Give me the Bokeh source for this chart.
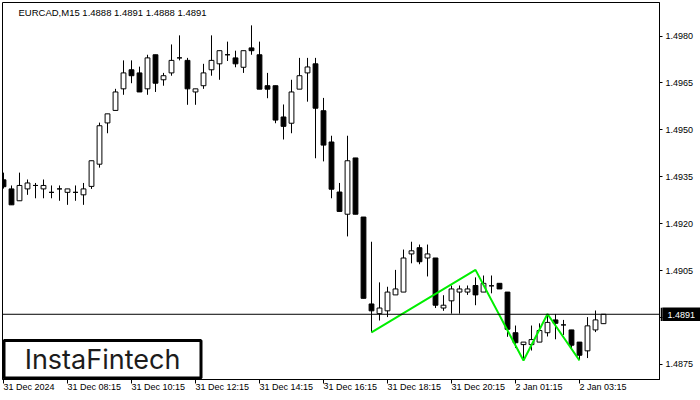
from bokeh.plotting import figure
from bokeh.layouts import column
from bokeh.models import (ColumnDataSource, FixedTicker, Span, Label, BoxAnnotation,
                          Range1d, PrintfTickFormatter)
from bokeh.embed import file_html
from bokeh.resources import INLINE

chart_title = "EURCAD,M15  1.4888 1.4891 1.4888 1.4891"
logo_text = "InstaFintech"

opens = [1.49340, 1.49311, 1.49273, 1.49311, 1.49322, 1.49311, 1.49300, 1.49311, 1.49300, 1.49300,
         1.49292, 1.49319, 1.49390, 1.49522, 1.49562, 1.49631, 1.49692, 1.49682, 1.49631, 1.49740,
         1.49660, 1.49682, 1.49730, 1.49722, 1.49621, 1.49641, 1.49692, 1.49711, 1.49740, 1.49730,
         1.49700, 1.49762, 1.49740, 1.49641, 1.49641, 1.49541, 1.49521, 1.49630, 1.49682, 1.49711,
         1.49561, 1.49461, 1.49301, 1.49230, 1.49410, 1.49221, 1.48943, 1.48912, 1.48921, 1.48972,
         1.48981, 1.49103, 1.49123, 1.49090, 1.49090, 1.48930, 1.48953, 1.48981, 1.48981, 1.49002,
         1.48981, 1.49001, 1.49009, 1.48981, 1.48851, 1.48813, 1.48813, 1.48821, 1.48851, 1.48892,
         1.48876, 1.48860, 1.48821, 1.48793, 1.48860, 1.48880]
highs = [1.49363, 1.49322, 1.49363, 1.49341, 1.49330, 1.49341, 1.49322, 1.49322, 1.49311, 1.49322,
         1.49330, 1.49401, 1.49523, 1.49551, 1.49631, 1.49722, 1.49722, 1.49702, 1.49740, 1.49740,
         1.49682, 1.49773, 1.49802, 1.49730, 1.49631, 1.49711, 1.49802, 1.49753, 1.49782, 1.49753,
         1.49753, 1.49834, 1.49782, 1.49682, 1.49641, 1.49581, 1.49660, 1.49730, 1.49730, 1.49730,
         1.49602, 1.49481, 1.49330, 1.49481, 1.49410, 1.49221, 1.49142, 1.49012, 1.48998, 1.49052,
         1.49117, 1.49142, 1.49133, 1.49133, 1.49090, 1.48971, 1.49002, 1.49002, 1.49002, 1.49028,
         1.49034, 1.49034, 1.49009, 1.48981, 1.48874, 1.48821, 1.48874, 1.48881, 1.48911, 1.48911,
         1.48892, 1.48860, 1.48821, 1.48901, 1.48922, 1.48910]
lows = [1.49312, 1.49260, 1.49273, 1.49292, 1.49281, 1.49281, 1.49281, 1.49273, 1.49260, 1.49273,
        1.49260, 1.49311, 1.49379, 1.49489, 1.49562, 1.49612, 1.49649, 1.49621, 1.49612, 1.49621,
        1.49641, 1.49673, 1.49722, 1.49580, 1.49580, 1.49631, 1.49673, 1.49660, 1.49720, 1.49700,
        1.49682, 1.49740, 1.49630, 1.49601, 1.49521, 1.49469, 1.49489, 1.49630, 1.49590, 1.49409,
        1.49399, 1.49281, 1.49239, 1.49159, 1.49230, 1.48961, 1.48852, 1.48890, 1.48901, 1.48972,
        1.48981, 1.49073, 1.49070, 1.49031, 1.48930, 1.48921, 1.48912, 1.48912, 1.48972, 1.48939,
        1.48981, 1.48977, 1.48991, 1.48838, 1.48802, 1.48764, 1.48794, 1.48821, 1.48839, 1.48830,
        1.48844, 1.48802, 1.48764, 1.48770, 1.48853, 1.48880]
closes = [1.49318, 1.49260, 1.49322, 1.49330, 1.49322, 1.49322, 1.49300, 1.49311, 1.49311, 1.49300,
          1.49311, 1.49401, 1.49513, 1.49551, 1.49621, 1.49682, 1.49673, 1.49621, 1.49730, 1.49649,
          1.49673, 1.49722, 1.49730, 1.49631, 1.49631, 1.49682, 1.49722, 1.49753, 1.49740, 1.49711,
          1.49753, 1.49753, 1.49630, 1.49630, 1.49531, 1.49511, 1.49621, 1.49673, 1.49701, 1.49569,
          1.49451, 1.49310, 1.49239, 1.49401, 1.49230, 1.48961, 1.48921, 1.48930, 1.48981, 1.48991,
          1.49090, 1.49113, 1.49078, 1.49103, 1.48939, 1.48939, 1.48991, 1.48991, 1.48991, 1.48972,
          1.49009, 1.49001, 1.48991, 1.48862, 1.48819, 1.48821, 1.48829, 1.48858, 1.48884, 1.48881,
          1.48876, 1.48811, 1.48779, 1.48873, 1.48892, 1.48910]

x_tick_bars = [0, 8, 16, 24, 32, 40, 48, 56, 64, 72]
x_tick_labels = ["31 Dec 2024", "31 Dec 08:15", "31 Dec 10:15", "31 Dec 12:15", "31 Dec 14:15",
                 "31 Dec 16:15", "31 Dec 18:15", "31 Dec 20:15", "2 Jan 01:15", "2 Jan 03:15"]
y_ticks = [1.4875, 1.4890, 1.4905, 1.4920, 1.4935, 1.4950, 1.4965, 1.4980]
pattern_bars = [46, 59, 65, 68, 72]
pattern_prices = [1.48852, 1.49052, 1.48762, 1.48911, 1.48762]
last_price = 1.4891

FONT = "Liberation Sans"
FRAME_W = 657
FRAME_H = 377
PX_PER_BAR = 8.0
PX_PER_PRICE = 31267.0

x_start = -0.125
x_end = x_start + FRAME_W / PX_PER_BAR
y_top = 1.4980 + 33.5 / PX_PER_PRICE
y_bottom = y_top - FRAME_H / PX_PER_PRICE

idx = list(range(len(opens)))
body_top = [max(o, c) for o, c in zip(opens, closes)]
body_bot = [min(o, c) for o, c in zip(opens, closes)]
fills = ["white" if c >= o else "black" for o, c in zip(opens, closes)]
src = ColumnDataSource(dict(x=idx, o=opens, h=highs, l=lows, c=closes,
                            top=body_top, bot=body_bot, fill=fills))

p = figure(frame_width=FRAME_W, frame_height=FRAME_H, output_backend="svg",
           toolbar_location=None, x_range=Range1d(x_start, x_end),
           y_range=Range1d(y_bottom, y_top), y_axis_location="right",
           min_border=0, min_border_left=2, min_border_top=2,
           background_fill_color="white", border_fill_color="white")
p.outline_line_color = "black"
p.outline_line_width = 1
p.grid.visible = False

p.segment(x0="x", y0="l", x1="x", y1="h", source=src, line_color="black", line_width=1)
p.vbar(x="x", top="top", bottom="bot", width=0.6, source=src,
       fill_color="fill", line_color="black", line_width=1)

p.add_layout(Span(location=last_price, dimension="width", line_color="black", line_width=1))
p.line(pattern_bars, pattern_prices, line_color="#00ee00", line_width=2)

xa = p.xaxis[0]
xa.ticker = FixedTicker(ticks=x_tick_bars)
xa.major_label_overrides = {b: t for b, t in zip(x_tick_bars, x_tick_labels)}
xa.major_label_orientation = -0.0001
xa.major_tick_out = 4
xa.major_tick_in = 0
xa.minor_tick_out = 0
xa.minor_tick_in = 0
xa.major_label_standoff = 3
xa.major_label_text_font = FONT
xa.major_label_text_font_size = "9px"
xa.major_label_text_color = "black"
xa.axis_line_color = "black"

ya = p.yaxis[0]
ya.ticker = FixedTicker(ticks=y_ticks)
ya.formatter = PrintfTickFormatter(format="%.4f")
ya.major_tick_out = 3
ya.major_tick_in = 0
ya.minor_tick_out = 0
ya.minor_tick_in = 0
ya.major_label_standoff = 3
ya.major_label_text_font = FONT
ya.major_label_text_font_size = "9px"
ya.major_label_text_color = "black"
ya.axis_line_color = "black"

p.add_layout(Label(x=16, y=FRAME_H - 4, x_units="screen", y_units="screen",
                   text=chart_title, text_color="black", text_font=FONT,
                   text_font_size="9.5px", text_baseline="top", text_align="left"))

p.add_layout(BoxAnnotation(left=1.5, right=198.5, bottom=1.5, top=39,
                           left_units="screen", right_units="screen",
                           bottom_units="screen", top_units="screen",
                           fill_color="white", fill_alpha=1.0,
                           line_color="black", line_width=3, line_alpha=1.0))
p.add_layout(Label(x=100, y=20, x_units="screen", y_units="screen",
                   text=logo_text, text_color="#1c1c1c", text_font="Inter",
                   text_font_size="27px", text_baseline="middle", text_align="center"))

# current-price tag laid over the right price scale
TAG_W = 40
TAG_H = 14
tag_top = 2 + (y_top - last_price) * PX_PER_PRICE - TAG_H / 2
q = figure(frame_width=TAG_W, frame_height=TAG_H, output_backend="svg",
           toolbar_location=None, x_axis_location=None, y_axis_location=None,
           x_range=Range1d(0, TAG_W), y_range=Range1d(0, TAG_H), min_border=0,
           background_fill_color="black", border_fill_color="black")
q.grid.visible = False
q.outline_line_color = None
q.text(x=[5], y=[TAG_H / 2], text=["%.4f" % last_price], text_color="white",
       text_font={"value": FONT}, text_font_size="9px", text_baseline="middle",
       text_align="left")
q.styles = {"position": "absolute", "left": "%dpx" % (2 + FRAME_W + 1),
            "top": "%dpx" % round(tag_top), "z-index": "10"}

layout = column(p, q)
open("out.html", "w").write(file_html(layout, INLINE))
